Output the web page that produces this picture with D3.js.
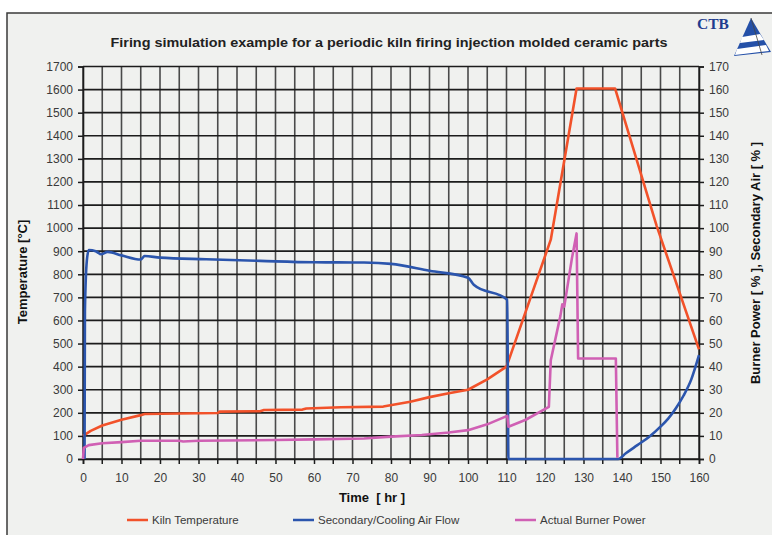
<!DOCTYPE html>
<html>
<head>
<meta charset="utf-8">
<script src="https://cdn.jsdelivr.net/npm/d3@7"></script>
<style>
html,body{margin:0;padding:0;background:#fff;}
svg{display:block;font-family:"Liberation Sans",Arial,sans-serif;}
</style>
</head>
<body>
<svg id="chart" width="772" height="535"></svg>
<script>
// ---- data ----
const titleText = "Firing simulation example for a periodic kiln firing injection molded ceramic parts";
const timeTicks = [0,10,20,30,40,50,60,70,80,90,100,110,120,130,140,150,160];
const tempTicks = [0,100,200,300,400,500,600,700,800,900,1000,1100,1200,1300,1400,1500,1600,1700];
const pctTicks = [0,10,20,30,40,50,60,70,80,90,100,110,120,130,140,150,160,170];

const kilnTime = [0, 2, 5, 10, 15, 16, 25, 35, 35.5, 46, 47, 57, 58, 67, 78, 85, 90, 95, 100, 105, 110, 121.5, 128.2, 138.2, 149, 160];
const kilnTemp = [100, 122, 145, 170, 190, 195, 197, 199, 205, 207, 212, 214, 219, 224, 227, 248, 268, 285, 300, 345, 400, 950, 1605, 1605, 1010, 475];

const airTime = [0.4, 0.5, 1.0, 1.5, 3.3, 4.7, 6.4, 10, 15, 16, 20, 32, 46, 60, 73, 80, 90, 100, 101.5, 110.2, 110.5, 139, 141, 144, 147, 150, 152, 154, 156, 158, 160];
const airFlow = [0, 64, 86, 90.5, 90, 88.7, 89.7, 88.2, 86.4, 87.9, 87.2, 86.5, 85.8, 85.2, 85.1, 84.5, 81.5, 78.5, 75.5, 69, 0, 0, 2.5, 6, 9.5, 14, 17.5, 22, 27.5, 34.5, 45];

const burnTime = [0, 0.2, 1.5, 5, 10, 15, 25, 26, 30, 50, 60, 73, 80, 88, 95, 100, 105, 110.2, 110.5, 115, 121, 121.5, 124, 124.5, 125, 127, 128.2, 128.6, 138.4, 138.8];
const burnPower = [0, 4.8, 6, 6.8, 7.3, 7.9, 7.9, 7.6, 7.9, 8.2, 8.5, 8.9, 9.7, 10.4, 11.5, 12.5, 15, 18.7, 14, 17, 22.6, 42.8, 62, 67, 66, 87, 97.7, 43.5, 43.5, 0.5];

const seriesNames = ["Kiln Temperature", "Secondary/Cooling Air Flow", "Actual Burner Power"];
const seriesColors = ["#f2522a", "#2b55ad", "#d060b4"];

// ---- chart ----
const svg = d3.select("#chart");
// frame
svg.append("rect").attr("x",7).attr("y",13).attr("width",780).attr("height",540)
  .attr("fill","#f0f1ef").attr("stroke","#3a3a3a").attr("stroke-width",1.5);

const x = d3.scaleLinear().domain([0,160]).range([83,699]);
const yT = d3.scaleLinear().domain([0,1700]).range([459,66.5]);
const yP = d3.scaleLinear().domain([0,170]).range([459,66.5]);

// gridlines
const g = svg.append("g");
g.selectAll(".vg").data(d3.range(0,161,5)).join("line")
  .attr("x1",d=>x(d)).attr("x2",d=>x(d)).attr("y1",yT(0)).attr("y2",yT(1700))
  .attr("stroke","#4a4a4a").attr("stroke-width",1.6);
g.selectAll(".hg").data(tempTicks).join("line")
  .attr("x1",x(0)).attr("x2",x(160)).attr("y1",d=>yT(d)).attr("y2",d=>yT(d))
  .attr("stroke","#1c1c1c").attr("stroke-width",1.7);

// axes
const tickFont = 12;
const fmt = d3.format("d");
const left = svg.append("g").attr("transform",`translate(${x(0)},0)`)
  .call(d3.axisLeft(yT).tickValues(tempTicks).tickFormat(fmt).tickSize(5).tickPadding(5));
const right = svg.append("g").attr("transform",`translate(${x(160)},0)`)
  .call(d3.axisRight(yP).tickValues(pctTicks).tickFormat(fmt).tickSize(5).tickPadding(5));
const bottom = svg.append("g").attr("transform",`translate(0,${yT(0)})`)
  .call(d3.axisBottom(x).tickValues(timeTicks).tickFormat(fmt).tickSize(5).tickPadding(9));
svg.append("g").selectAll("line").data(d3.range(5,160,10)).join("line")
  .attr("x1",d=>x(d)).attr("x2",d=>x(d)).attr("y1",yT(0)).attr("y2",yT(0)+5)
  .attr("stroke","#1c1c1c").attr("stroke-width",1.5);
[left,right,bottom].forEach(a=>{
  a.select(".domain").attr("stroke","#1c1c1c").attr("stroke-width",1.6);
  a.selectAll(".tick line").attr("stroke","#1c1c1c").attr("stroke-width",1.5);
  a.selectAll(".tick text").attr("fill","#3a3a3a").attr("font-size",tickFont)
    .attr("font-family","'Liberation Sans',Arial,sans-serif");
});

// lines
const lineT = d3.line().x(d=>x(d[0])).y(d=>yT(d[1]));
const lineP = d3.line().x(d=>x(d[0])).y(d=>yP(d[1]));
const lineSmooth = d3.line().x(d=>x(d[0])).y(d=>yP(d[1])).curve(d3.curveMonotoneX);
svg.append("path").datum(kilnTime.map((t,i)=>[t,kilnTemp[i]]))
  .attr("d",lineT).attr("fill","none").attr("stroke",seriesColors[0]).attr("stroke-width",2.6).attr("stroke-linejoin","round");
svg.append("path").datum(airTime.map((t,i)=>[t,airFlow[i]]))
  .attr("d",lineSmooth).attr("fill","none").attr("stroke",seriesColors[1]).attr("stroke-width",2.6).attr("stroke-linejoin","round");
svg.append("path").datum(burnTime.map((t,i)=>[t,burnPower[i]]))
  .attr("d",lineP).attr("fill","none").attr("stroke",seriesColors[2]).attr("stroke-width",2.6).attr("stroke-linejoin","round");

// title
svg.append("text").attr("x",389).attr("y",47).attr("text-anchor","middle")
  .attr("font-size",12.5).attr("font-weight","bold").attr("fill","#222")
  .attr("textLength",557).attr("lengthAdjust","spacingAndGlyphs").text(titleText);

// axis titles
svg.append("text").attr("transform","translate(27,272) rotate(-90)").attr("text-anchor","middle")
  .attr("font-size",13).attr("font-weight","bold").attr("fill","#111").text("Temperature [°C]");
svg.append("text").attr("transform","translate(760,263) rotate(-90)").attr("text-anchor","middle")
  .attr("font-size",13).attr("font-weight","bold").attr("fill","#111").text("Burner Power [ % ], Secondary Air [ % ]");
svg.append("text").attr("x",372).attr("y",502).attr("text-anchor","middle")
  .attr("font-size",13).attr("font-weight","bold").attr("fill","#111").attr("xml:space","preserve").text("Time  [ hr ]");

// legend
const legX = [127, 293, 515];
seriesNames.forEach((n,i)=>{
  svg.append("line").attr("x1",legX[i]).attr("x2",legX[i]+21).attr("y1",520).attr("y2",520)
    .attr("stroke",seriesColors[i]).attr("stroke-width",2.5);
  svg.append("text").attr("x",legX[i]+25).attr("y",524).attr("font-size",11.5)
    .attr("fill","#3a3a3a").text(n);
});

// CTB logo
const logo = svg.append("g");
logo.append("text").attr("x",697).attr("y",29).attr("font-family","'Liberation Serif','DejaVu Serif',serif")
  .attr("font-weight","bold").attr("font-size",15.5).attr("fill","#1f3d8f").text("CTB");
logo.append("polygon").attr("points","751,18 734,56 771,52").attr("fill","#2450a8");
logo.append("polygon").attr("points","742,37 760,34 764,40 740,43").attr("fill","#ffffff");
logo.append("polygon").attr("points","737,49 766,45 769,51 735,55").attr("fill","#ffffff");
logo.append("line").attr("x1",751).attr("y1",18).attr("x2",762).attr("y2",55).attr("stroke","#444").attr("stroke-width",0.8);
</script>
</body>
</html>
